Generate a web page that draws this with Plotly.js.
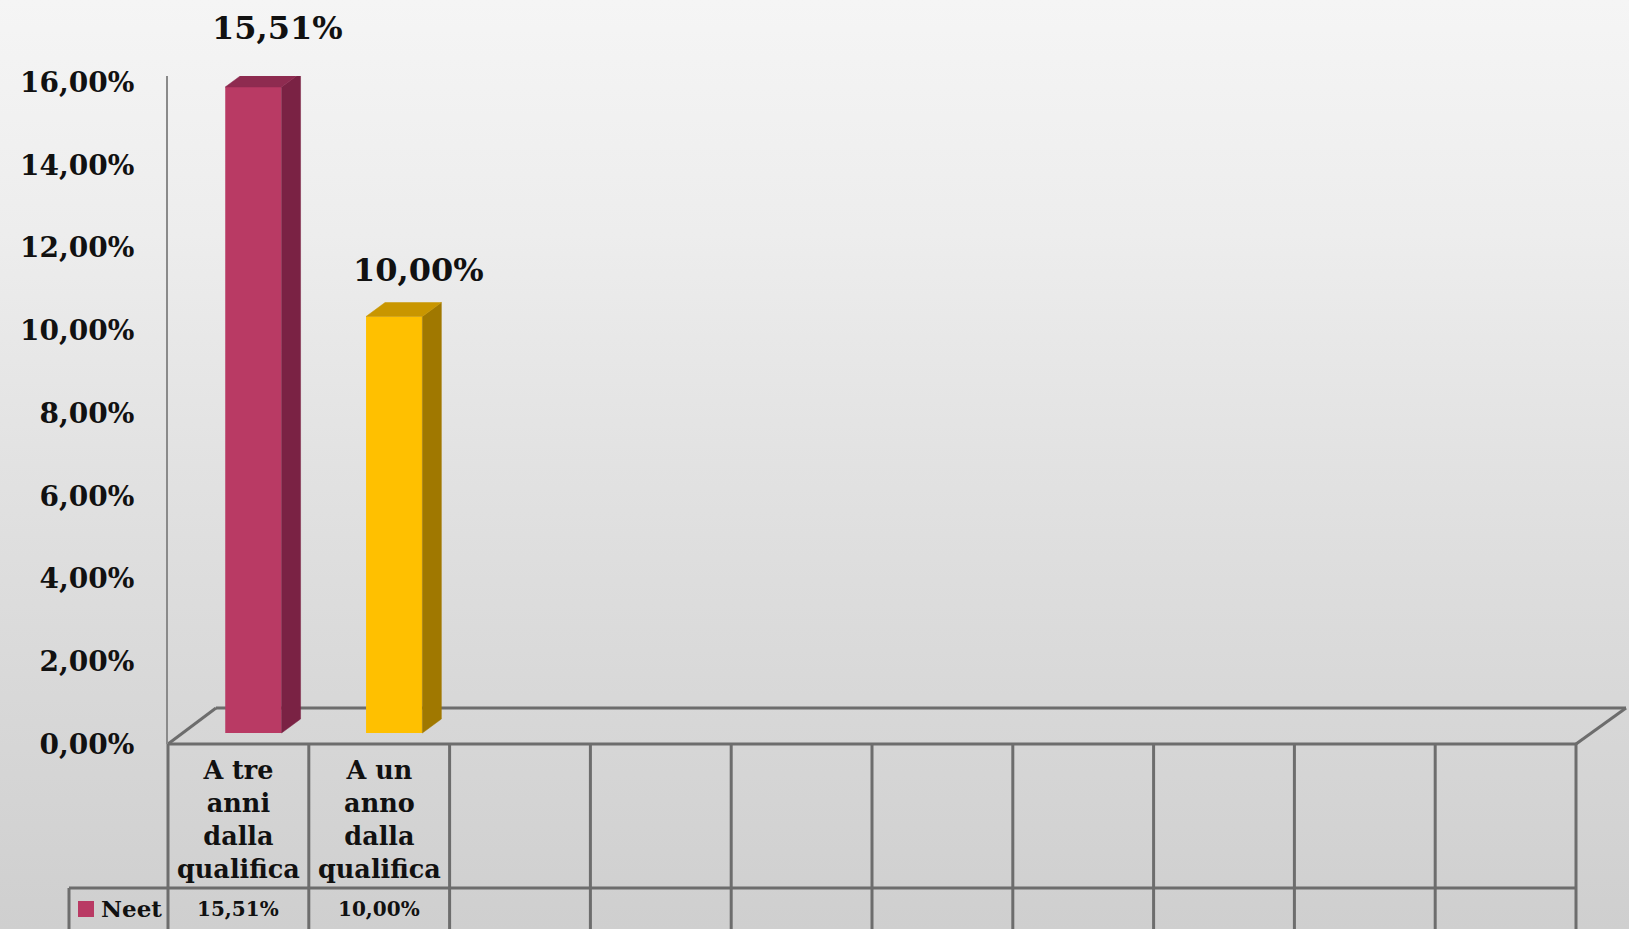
<!DOCTYPE html>
<html>
<head>
<meta charset="utf-8">
<script src="https://cdn.plot.ly/plotly-3.0.1.min.js"></script>
<style>
html,body{margin:0;padding:0;width:1629px;height:929px;overflow:hidden;}
body{background:linear-gradient(180deg,#f5f5f5 0%,#ededed 25%,#e2e2e2 50%,#d8d8d8 75%,#cfcfcf 100%);}
#chart{width:1629px;height:929px;}
</style>
</head>
<body>
<div id="chart"></div>
<script>
// ---- data ----
const categories = ['A tre anni dalla qualifica', 'A un anno dalla qualifica'];
const categoryLabels = ['A tre<br>anni<br>dalla<br>qualifica', 'A un<br>anno<br>dalla<br>qualifica'];
const seriesName = 'Neet';
const values = [15.51, 10.00];
const valueLabels = ['15,51%', '10,00%'];
const yTickVals = [0, 2, 4, 6, 8, 10, 12, 14, 16];
const yTickText = ['0,00%', '2,00%', '4,00%', '6,00%', '8,00%', '10,00%', '12,00%', '14,00%', '16,00%'];
const frontColors = ['#B93A64', '#FFC000'];
const sideColors = ['#7A2244', '#A07800'];
const topColors = ['#8E2B50', '#C99600'];

// ---- layout / style constants ----
const labelYShift = [38, 26];   // data label offsets (px) as placed in the original
const W = 1629, H = 929;
const L = 168, R = 1576, T = 76, B = 744;
const nCols = 10;
const plotW = R - L, plotH = B - T;
const xr = [-0.5, nCols - 0.5];
const colPx = plotW / nCols;
const barShiftPx = 15;
const barBasePx = 11;
const barScalePx = 41.65;
const x2r = [xr[0] - barShiftPx / colPx, xr[1] - barShiftPx / colPx];
const y2r = [-barBasePx / barScalePx, (B - barBasePx - T) / barScalePx];
const barW = 0.4;
const depthX = 19 / colPx;
const depthY = 14 / barScalePx;
const FONT = 'DejaVu Serif, Liberation Serif, serif';
const lineCol = '#6d6d6d';
const tickPx = (B - 82) / 16;

function px2paperX(p) { return (p - L) / plotW; }
function px2paperY(p) { return (B - p) / plotH; }
function colToPaper(c) { return (c - xr[0]) / (xr[1] - xr[0]); }

const traces = [];
traces.push({x: [0], y: [yTickVals[0]], type: 'scatter', mode: 'markers',
  marker: {opacity: 0}, hoverinfo: 'skip', showlegend: false, xaxis: 'x', yaxis: 'y'});

traces.push({
  type: 'bar', name: seriesName,
  x: values.map((v, i) => i), y: values,
  width: barW,
  marker: {color: frontColors, line: {width: 0}},
  xaxis: 'x2', yaxis: 'y2', showlegend: false,
  hovertext: categories, hoverinfo: 'text+y'
});

values.forEach((v, i) => {
  const xl = i - barW / 2, xrr = i + barW / 2;
  traces.push({
    type: 'scatter', mode: 'lines', fill: 'toself',
    x: [xrr, xrr + depthX, xrr + depthX, xrr, xrr],
    y: [0, depthY, v + depthY, v, 0],
    fillcolor: sideColors[i], line: {color: sideColors[i], width: 0.5},
    xaxis: 'x2', yaxis: 'y2', hoverinfo: 'skip', showlegend: false
  });
  traces.push({
    type: 'scatter', mode: 'lines', fill: 'toself',
    x: [xl, xrr, xrr + depthX, xl + depthX, xl],
    y: [v, v, v + depthY, v + depthY, v],
    fillcolor: topColors[i], line: {color: topColors[i], width: 0.5},
    xaxis: 'x2', yaxis: 'y2', hoverinfo: 'skip', showlegend: false
  });
});

const shapes = [];
const ln = (x0, y0, x1, y1, w) => shapes.push({type: 'line', xref: 'paper', yref: 'paper',
  x0, y0, x1, y1, line: {color: lineCol, width: w || 3}, layer: 'below'});

// 3D floor
const fdx = 48 / plotW, fdy = 36 / plotH;
ln(0, 0, 1, 0);
ln(fdx, fdy, 1 + 50 / plotW, fdy);
ln(0, 0, fdx, fdy);
ln(1, 0, 1 + 50 / plotW, fdy);

// data table
const tableRowY = px2paperY(888);
const tableBottom = px2paperY(H + 10);
for (let c = 0; c <= nCols; c++) {
  const xp = colToPaper(c - 0.5);
  ln(xp, 0, xp, tableBottom);
}
const legLeft = px2paperX(69);
ln(legLeft, tableRowY, 1, tableRowY);
ln(legLeft, tableRowY, legLeft, tableBottom);
shapes.push({type: 'rect', xref: 'paper', yref: 'paper',
  x0: px2paperX(78), x1: px2paperX(94), y0: px2paperY(917), y1: px2paperY(901),
  fillcolor: frontColors[0], line: {width: 0}});

const annotations = [];
categoryLabels.forEach((t, i) => annotations.push({
  xref: 'x', yref: 'paper', x: i, y: px2paperY(820), text: t, showarrow: false,
  xanchor: 'center', yanchor: 'middle', align: 'center',
  font: {family: FONT, size: 25.5, color: '#111', weight: 'bold'}
}));
valueLabels.forEach((t, i) => annotations.push({
  xref: 'x', yref: 'paper', x: i, y: px2paperY(909), text: t, showarrow: false,
  xanchor: 'center', yanchor: 'middle',
  font: {family: FONT, size: 20, color: '#111', weight: 'bold'}
}));
annotations.push({
  xref: 'paper', yref: 'paper', x: px2paperX(99), y: px2paperY(908), text: seriesName,
  showarrow: false, xanchor: 'left', yanchor: 'middle',
  font: {family: FONT, size: 23, color: '#111', weight: 'bold'}
});
values.forEach((v, i) => annotations.push({
  xref: 'x2', yref: 'y2', x: i, y: v, text: valueLabels[i], showarrow: false,
  xanchor: 'center', yanchor: 'bottom', xshift: 24, yshift: labelYShift[i],
  font: {family: FONT, size: 32, color: '#111', weight: 'bold'}
}));

const layout = {
  width: W, height: H,
  margin: {l: L, r: W - R, t: T, b: H - B, pad: 0},
  paper_bgcolor: 'rgba(0,0,0,0)', plot_bgcolor: 'rgba(0,0,0,0)',
  showlegend: false,
  xaxis: {range: xr, showticklabels: false, showgrid: false, zeroline: false, showline: false, fixedrange: true},
  yaxis: {range: [0, (B - T) / tickPx],
    tickvals: yTickVals, ticktext: yTickText, showgrid: false, zeroline: false,
    showline: true, linecolor: '#8a8a8a', linewidth: 2, ticks: '', ticklabelstandoff: 26,
    tickfont: {family: FONT, size: 28, color: '#111', weight: 'bold'}, fixedrange: true},
  xaxis2: {range: x2r, overlaying: 'x', anchor: 'y2', visible: false, fixedrange: true},
  yaxis2: {range: y2r, overlaying: 'y', anchor: 'x2', visible: false, fixedrange: true},
  shapes, annotations
};

Plotly.newPlot('chart', traces, layout, {displayModeBar: false, staticPlot: true});
</script>
</body>
</html>
